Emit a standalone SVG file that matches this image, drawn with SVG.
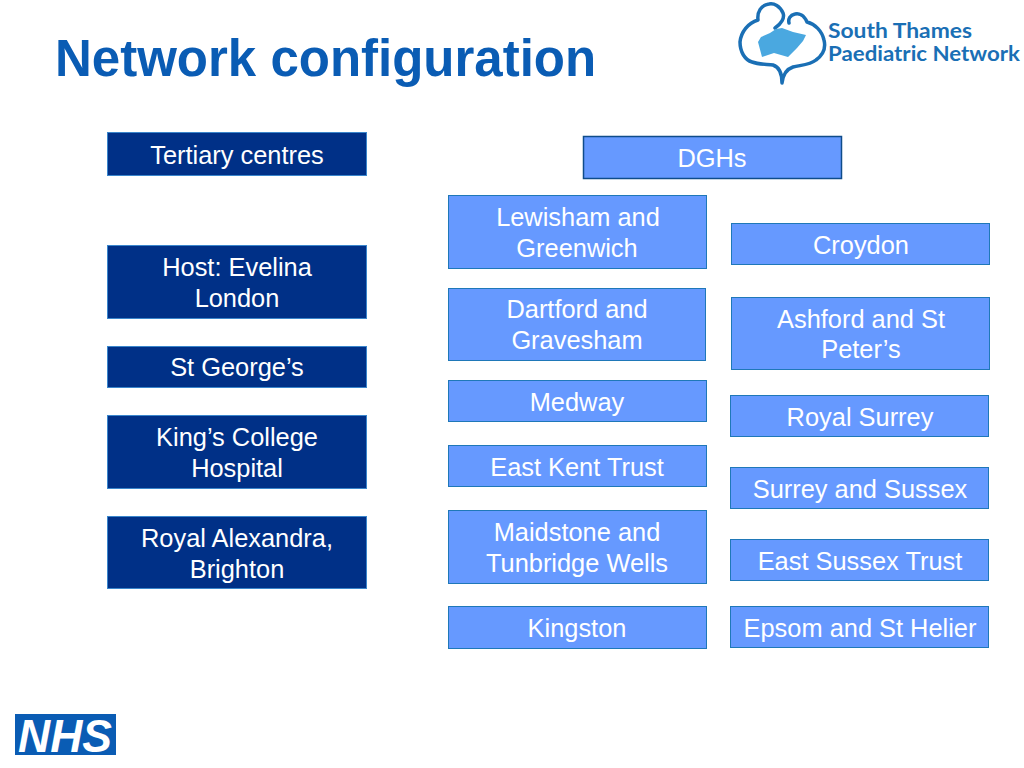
<svg xmlns="http://www.w3.org/2000/svg" width="1024" height="768" viewBox="0 0 1024 768">
<style>
text{font-family:"Liberation Sans",Arial,sans-serif}
.t{font-size:25.4px;fill:#fff;text-anchor:middle}
.d rect{fill:#003087;stroke:#3a86cc;stroke-width:1}
.l rect{fill:#6699ff;stroke:#1f78b8;stroke-width:1}
.logo{fill:none;stroke:#1a6fb5;stroke-width:3.500;stroke-linecap:round;stroke-linejoin:round}
.lt{font-family:Lato,"Liberation Sans",sans-serif;font-size:20.500px;font-weight:700;fill:#1a6fb5}
</style>
<rect width="1024" height="768" fill="#fff"/>
<text id="title" x="55" y="76" font-size="51" font-weight="700" fill="#0a5cb4">Network configuration</text>
<g id="logo">
<path class="logo" d="M775 28C781 24 785 18 783 13C780 6 774 3 769 4C761 5 757 12 758 20C748 23 741 32 740 42C740 52 745 60 752 62C760 65 768 64 773 65C779 67 782 74 782 83C783 74 787 69 793 67C801 65 810 65 816 60C823 55 826 48 824 40C822 31 815 24 807 22C804 15 799 13 795 14C790 15 788 19 789 23"/>
<path d="M758 42L761 37L770 33L776 29L782 28L793 32L806 35L803 41L797 48L788 57L774 53L762 57Z" fill="#4aa8e0"/>
<text class="lt" x="828" y="38" textLength="144" lengthAdjust="spacingAndGlyphs">South Thames</text>
<text class="lt" x="828" y="61" textLength="192" lengthAdjust="spacingAndGlyphs">Paediatric Network</text>
</g>
<g id="nhs">
<rect x="15" y="714" width="101" height="41" fill="#0a5cb4"/>
<text x="65" y="752" font-size="47" font-weight="700" font-style="italic" fill="#fff" text-anchor="middle" textLength="94" lengthAdjust="spacingAndGlyphs">NHS</text>
</g>
<g id="tertiary" class="d"><rect x="107.500" y="132.500" width="259" height="43"/><text class="t" x="237" y="164">Tertiary centres</text></g>
<g id="evelina" class="d"><rect x="107.500" y="245.500" width="259" height="73"/><text class="t" x="237" y="276">Host: Evelina</text><text class="t" x="237" y="307">London</text></g>
<g id="stgeorges" class="d"><rect x="107.500" y="346.500" width="259" height="41"/><text class="t" x="237" y="376">St George’s</text></g>
<g id="kings" class="d"><rect x="107.500" y="415.500" width="259" height="73"/><text class="t" x="237" y="446">King’s College</text><text class="t" x="237" y="477">Hospital</text></g>
<g id="alexandra" class="d"><rect x="107.500" y="516.500" width="259" height="72"/><text class="t" x="237" y="547">Royal Alexandra,</text><text class="t" x="237" y="578">Brighton</text></g>
<g id="dghs" class="l"><rect x="583.500" y="136.500" width="258" height="42" style="stroke:#0f4c8a;stroke-width:1.500"/><text class="t" x="712" y="167">DGHs</text></g>
<g id="lewisham" class="l"><rect x="448.500" y="195.500" width="258" height="73"/><text class="t" x="578" y="226">Lewisham and</text><text class="t" x="577" y="257">Greenwich</text></g>
<g id="dartford" class="l"><rect x="448.500" y="288.500" width="257" height="72"/><text class="t" x="577" y="318">Dartford and</text><text class="t" x="577" y="349">Gravesham</text></g>
<g id="medway" class="l"><rect x="448.500" y="380.500" width="258" height="41"/><text class="t" x="577" y="411">Medway</text></g>
<g id="eastkent" class="l"><rect x="448.500" y="445.500" width="258" height="41"/><text class="t" x="577" y="476">East Kent Trust</text></g>
<g id="maidstone" class="l"><rect x="448.500" y="510.500" width="258" height="73"/><text class="t" x="577" y="541">Maidstone and</text><text class="t" x="577" y="572">Tunbridge Wells</text></g>
<g id="kingston" class="l"><rect x="448.500" y="606.500" width="258" height="42"/><text class="t" x="577" y="637">Kingston</text></g>
<g id="croydon" class="l"><rect x="731.500" y="223.500" width="258" height="41"/><text class="t" x="861" y="254">Croydon</text></g>
<g id="ashford" class="l"><rect x="731.500" y="297.500" width="258" height="72"/><text class="t" x="861" y="328">Ashford and St</text><text class="t" x="861" y="358">Peter’s</text></g>
<g id="royalsurrey" class="l"><rect x="730.500" y="395.500" width="258" height="41"/><text class="t" x="860" y="426">Royal Surrey</text></g>
<g id="surreysussex" class="l"><rect x="730.500" y="467.500" width="258" height="41"/><text class="t" x="860" y="498">Surrey and Sussex</text></g>
<g id="eastsussex" class="l"><rect x="730.500" y="539.500" width="258" height="41"/><text class="t" x="860" y="570">East Sussex Trust</text></g>
<g id="epsom" class="l"><rect x="730.500" y="606.500" width="258" height="41"/><text class="t" x="860" y="637">Epsom and St Helier</text></g>
<g id="connectors"/>
</svg>
